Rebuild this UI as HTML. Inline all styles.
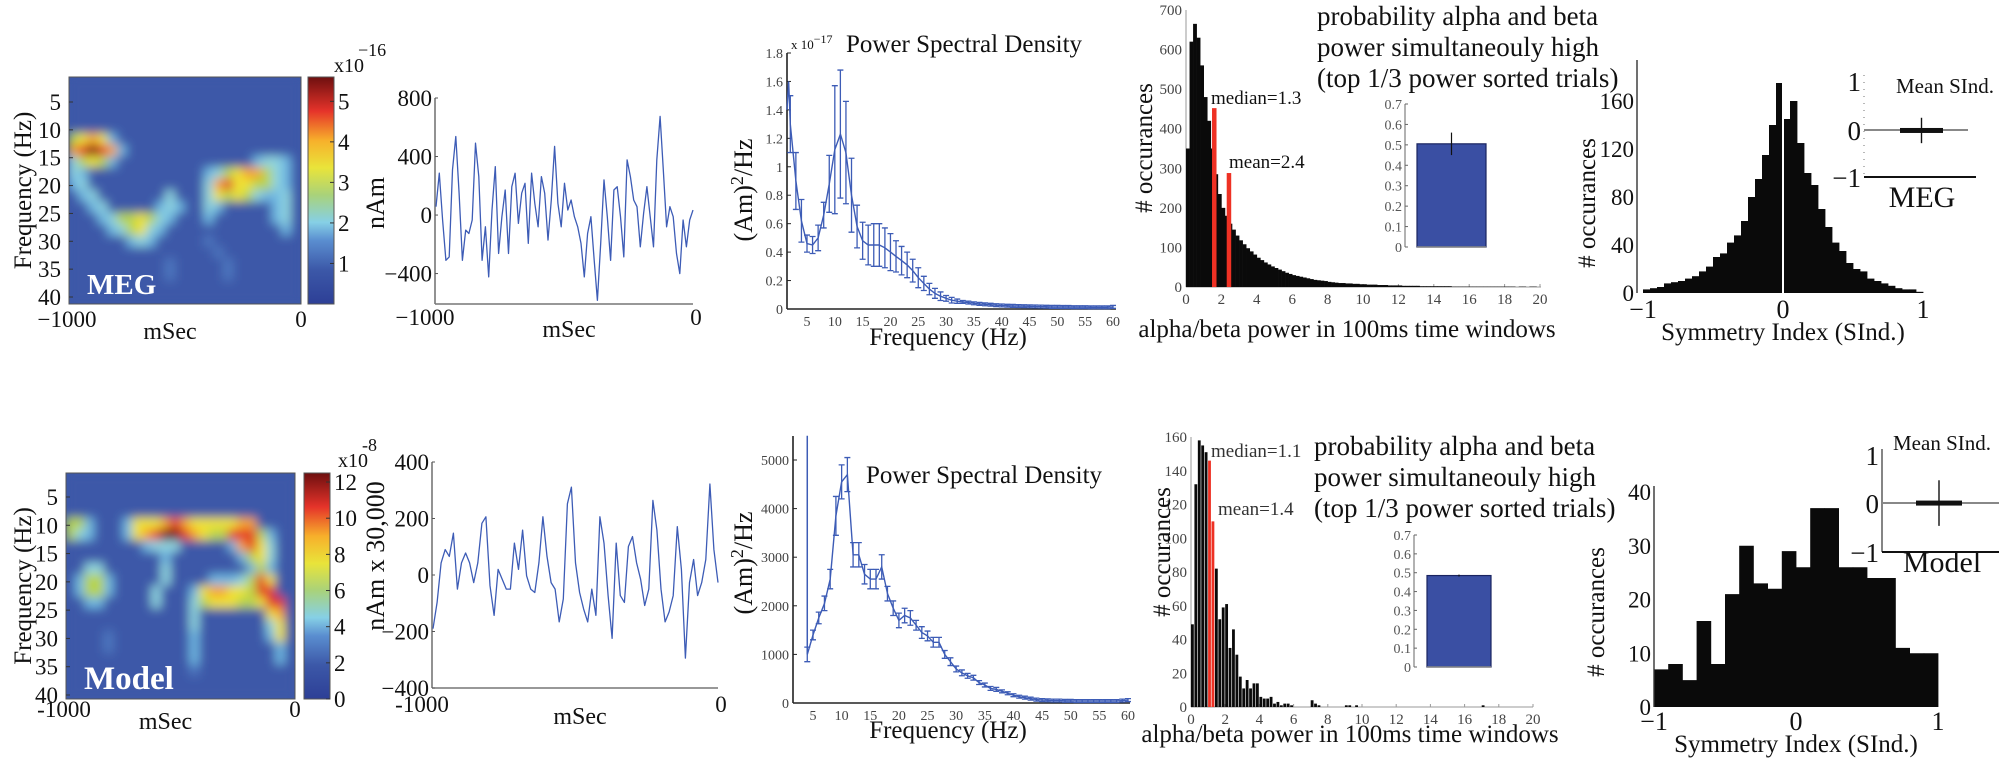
<!DOCTYPE html>
<html><head><meta charset="utf-8"><title>MEG vs Model</title>
<style>
html,body{margin:0;padding:0;background:#fff;}
svg{display:block;font-family:"Liberation Serif","DejaVu Serif",serif;}
</style></head>
<body>
<svg id="fig" xmlns="http://www.w3.org/2000/svg" width="1999" height="761" viewBox="0 0 1999 761">
<defs>
<linearGradient id="jet" x1="0" y1="1" x2="0" y2="0">
<stop offset="0" stop-color="#2d3f96"/><stop offset="0.15" stop-color="#3c58a8"/><stop offset="0.28" stop-color="#5a8ed0"/>
<stop offset="0.36" stop-color="#86d0e6"/><stop offset="0.48" stop-color="#a9d27a"/><stop offset="0.6" stop-color="#e9e43a"/>
<stop offset="0.72" stop-color="#f7b02b"/><stop offset="0.85" stop-color="#e5332a"/><stop offset="1" stop-color="#6e0f0f"/>
</linearGradient>
<filter id="blur" x="-10%" y="-10%" width="120%" height="120%"><feGaussianBlur stdDeviation="5"/></filter>
<clipPath id="clipTop"><rect x="69" y="77" width="232" height="227"/></clipPath>
<clipPath id="clipBot"><rect x="66" y="473" width="229" height="226"/></clipPath>
</defs>
</svg>
<script>
// ---------- data ----------
const levelColors = ['#2d3f96','#3c58a8','#4d78c0','#70b8e2','#8fd4df','#b8d44a','#efe236','#f6a428','#e3342a','#6e0f0f'];
const megGrid = [
"111111111111111111111111","111111111111111111111111","111111111111111111111111","111111111111111111111111",
"111111111111111111111111","567631111111111111111111","789873111111111111111111","456531111111111111134431",
"431111111111113456775431","341111111111114786655431","134111111141114656543341","113411111343114311111341",
"111345565431113111111341","111134564311111111111131","111111343111112111111111","111111111111111211111111",
"111111111121111121111111","111111111121111121111111","111111111111111111111111","111111111111111111111111"];
const modelGrid = [
"111111111111111111111111","111111111111111111111111","111111111111111111111111","111111111111111111111111",
"553111366678766666771111","543111367899876558885311","111111113444111113786411","111111111131111111356411",
"114411111141111111135311","135531111141111333458611","135531111411136776658811","113311111411145666556881",
"111111111111141111111671","111111111111141111111461","111121111111131111111361","111121111111131111111131",
"111111111111131111111131","111111111111121111111111","111111111111111111111111","111111111111111111111111"];
const megTicks = [1,2,3,4,5];
const modelTicks = [0,2,4,6,8,10,12];
const freqTicks = [5,10,15,20,25,30,35,40];

const megSeries = [57,286,-34,-309,-286,309,537,149,-309,-103,-126,-34,491,263,-309,-80,-423,34,331,-263,-11,171,-263,194,286,-57,149,217,-194,286,80,-80,263,149,-171,103,469,80,-80,217,34,103,-11,-80,-194,-423,-126,-11,-309,-583,-194,240,-11,-309,171,194,-11,-286,377,263,103,57,-217,11,194,-11,-217,377,674,309,-80,57,-11,-263,-400,-34,-217,-34,34];
const modelSeries = [-190,-97,43,90,66,148,-50,43,78,43,-27,43,183,206,-38,-143,20,-15,-50,-50,113,20,159,-3,-50,-62,43,206,66,-27,-50,-166,-85,252,311,43,-62,-120,-166,-50,-143,206,113,-73,-224,113,-73,-97,101,136,43,-15,-108,-50,264,159,-50,-166,-131,-73,171,20,-294,-27,55,-73,-27,55,322,90,-27];
const megTsTicks = [800,400,0,-400];
const modelTsTicks = [400,200,0,-200,-400];

const psdTopFreq = [2,3,4,5,6,7,8,9,10,11,12,13,14,15,16,17,18,19,20,21,22,23,24,25,26,27,28,29,30,31,32,33,34,35,36,37,38,39,40,41,42,43,44,45,46,47,48,49,50,51,52,53,54,55,56,57,58,59,60];
const psdTopVal = [1.30,0.90,0.62,0.46,0.45,0.50,0.66,0.88,1.12,1.23,1.10,0.80,0.58,0.48,0.45,0.45,0.45,0.43,0.40,0.37,0.34,0.31,0.27,0.22,0.18,0.14,0.11,0.09,0.075,0.062,0.055,0.05,0.045,0.04,0.036,0.033,0.03,0.027,0.025,0.023,0.022,0.021,0.02,0.019,0.018,0.017,0.016,0.015,0.015,0.014,0.014,0.013,0.013,0.013,0.012,0.012,0.012,0.012,0.015];
const psdTopErr = [0.2,0.2,0.15,0.06,0.06,0.09,0.09,0.2,0.45,0.45,0.36,0.26,0.15,0.13,0.14,0.15,0.15,0.14,0.13,0.11,0.1,0.09,0.08,0.07,0.05,0.04,0.035,0.03,0.02,0.02,0.015,0.01,0.01,0.01,0.01,0.01,0.01,0.01,0.01,0.01,0.01,0.01,0.01,0.01,0.01,0.01,0.01,0.01,0.01,0.01,0.01,0.01,0.01,0.01,0.01,0.01,0.01,0.01,0.01];
const psdTopStart = [1.4,1.6];
const psdTopYTicks = [0,0.2,0.4,0.6,0.8,1,1.2,1.4,1.6,1.8];
const psdXTicks = [5,10,15,20,25,30,35,40,45,50,55,60];

const psdBotFreq = [4,5,6,7,8,9,10,11,12,13,14,15,16,17,18,19,20,21,22,23,24,25,26,27,28,29,30,31,32,33,34,35,36,37,38,39,40,41,42,43,44,45,46,47,48,49,50,51,52,53,54,55,56,57,58,59,60];
const psdBotVal = [1000,1400,1750,2050,2550,3850,4550,4700,3050,3050,2650,2550,2550,2800,2250,1950,1700,1800,1750,1600,1450,1380,1250,1250,1000,850,700,620,560,520,420,370,300,280,240,200,160,130,110,90,70,60,55,50,50,45,45,40,40,40,40,40,40,40,40,50,60];
const psdBotErr = [150,100,120,150,200,400,350,350,250,250,200,200,200,250,150,150,150,150,150,100,120,100,100,100,80,80,60,60,50,50,40,40,40,40,30,30,30,30,30,30,30,30,30,30,30,30,30,30,30,30,30,30,30,30,30,30,30];
const psdBotSpike = 5500;
const psdBotYTicks = [0,1000,2000,3000,4000,5000];

const abTopCounts = [350,620,665,630,560,480,420,350,285,235,200,180,160,145,130,118,108,98,90,82,74,68,62,57,52,48,44,40,36,33,30,28,26,24,22,20,18,17,16,15,13,12,11,10,10,9,9,8,8,7,7,6,6,6,5,5,5,4,4,4,4,3,3,3,3,3,2,2,2,2,2,2,2,2,2,1,1,1,1,1,1,1,1,1,1,1,1,1,1,1,1,1,1,0,1,1,0,1,1,0];
const abTopMarkers = [1.3,2.4];
const abTopMarkerBin = [1.47,2.3];
const abTopMarkerCounts = [452,288];
const abBotCounts = [49,132,158,155,151,146,110,82,52,59,61,35,46,31,18,11,16,11,14,14,6,5,5,6,2,3,1,2,2,1,0,0,0,0,0,4,2,1,0,0,0,0,0,0,0,1,1,0,1,0,0,0,0,0,0,0,0,0,0,0,0,0,0,0,0,0,0,0,0,0,0,0,0,0,0,0,0,0,0,0,0,0,0,0,0,1,0,0,0,0,0,0,0,0,0,0,0,0,0,0];
const abBotRedBins = [5,6];
const abBotMarkers = [1.1,1.4];
const abTopYTicks = [0,100,200,300,400,500,600,700];
const abBotYTicks = [0,20,40,60,80,100,120,140,160];
const abXTicks = [0,2,4,6,8,10,12,14,16,18,20];
const probTop = [0.505], probTopErr = [0.055];
const probBot = [0.485], probBotErr = [0.005];
const probTicks = [0,0.1,0.2,0.3,0.4,0.5,0.6,0.7];

const symTopCounts = [3,4,5,8,9,10,12,14,18,22,30,33,42,48,60,80,95,115,140,175,145,160,125,100,90,70,55,42,35,25,20,18,12,10,8,6,4,3,3,1];
const symBotCounts = [7,8,5,16,8,21,30,23,22,29,26,37,37,26,26,24,24,11,10,10];
const symTopYTicks = [0,40,80,120,160];
const symBotYTicks = [0,10,20,30,40];
const symXTicks = [-1,0,1];
const meanSIndTop = [-0.01], meanSIndTopErr = [0.27];
const meanSIndBot = [0.03], meanSIndBotErr = [0.48];

// ---------- helpers ----------
const NS='http://www.w3.org/2000/svg';
const svg=document.getElementById('fig');
function mk(tag, attrs, name, parent){
  const el=document.createElementNS(NS,tag);
  for(const k in attrs) el.setAttribute(k,attrs[k]);
  
  
  (parent||svg).appendChild(el);
  return el;
}
function grp(name){ return mk('g',{},name); }
function txt(p,x,y,s,size,name,anchor,fill,rot,weight){
  const t=mk('text',{x:x,y:y,'font-size':size,fill:fill||'#111','text-anchor':anchor||'start'},name,p);
  if(rot) t.setAttribute('transform','rotate(-90 '+x+' '+y+')');
  if(weight) t.setAttribute('font-weight',weight);
  t.textContent=s; return t;
}
function ln(p,x1,y1,x2,y2,stroke,w,name){ return mk('line',{x1:x1,y1:y1,x2:x2,y2:y2,stroke:stroke,'stroke-width':w},name,p); }
function lin(d0,d1,r0,r1){ return v=>r0+(v-d0)/(d1-d0)*(r1-r0); }
function fmt(v){ return v<0 ? '\u2212'+Math.abs(v) : ''+v; }

// ---------- heatmaps ----------
function heatmap(name, grid, x0,x1,y0,y1, clip, fy, cbx, cby0, cby1, cbScale, cbTicks, label, expo, expoPos, xlY){
  const g=grp(name);
  const inner=mk('g',{'clip-path':'url(#'+clip+')'},name+'-cells',g);
  mk('rect',{x:x0,y:y0,width:x1-x0,height:y1-y0,fill:levelColors[1]},name+'-bg',inner);
  const blurG=mk('g',{filter:'url(#blur)',style:'filter:url(#blur)'},name+'-blur',inner);
  const rows=grid.length, cols=grid[0].length, cw=(x1-x0)/cols, rh=(y1-y0)/rows;
  for(let r=0;r<rows;r++) for(let c=0;c<cols;c++){
    const cell=mk('rect',{x:x0+c*cw-0.5,y:y0+r*rh-0.5,width:cw+1,height:rh+1,fill:levelColors[+grid[r][c]]},'cell',blurG);
    
  }
  mk('rect',{x:x0,y:y0,width:x1-x0,height:y1-y0,fill:'none',stroke:'#555','stroke-width':1},name+'-frame',g);
  freqTicks.forEach(f=>{ const y=fy(f); txt(g,x0-8,y+8,''+f,23,'y-tick-label','end'); ln(g,x0,y,x0+4,y,'#333',1,'y-tick'); });
  txt(g,31,(y0+y1)/2,'Frequency (Hz)',25,'y-axis-title','middle',null,true);
  txt(g,x0-2,xlY,name.indexOf('top')>=0?'\u22121000':'-1000',23,'x-tick-label','middle');
  txt(g,x1,xlY,'0',23,'x-tick-label','middle');
  txt(g,(x0+x1)/2-15,xlY+12,'mSec',24,'x-axis-title','middle');
  txt(g,x0+18,y1-10,label,label==='MEG'?29:33,'panel-label','start','#fff',false,'bold');
  mk('rect',{x:cbx,y:cby0,width:26,height:cby1-cby0,fill:'url(#jet)',stroke:'#555','stroke-width':1},name+'-colorbar',g);
  cbTicks.forEach(v=>{ const y=cbScale(v); txt(g,cbx+30,y+8,''+v,23,'colorbar-tick-label'); ln(g,cbx+22,y,cbx+26,y,'#333',1,'colorbar-tick'); });
  txt(g,expoPos[0],expoPos[1],'x10',20,'colorbar-exponent');
  txt(g,expoPos[0]+24,expoPos[1]-16,expo,18,'colorbar-exponent-power');
}
const fyTop=lin(5,40,102,297);
heatmap('heatmap-top',megGrid,69,301,77,304,'clipTop',fyTop,308,77,304,lin(0,5.6,304,77),megTicks,'MEG','\u221216',[334,72],327);
const fyBot=lin(5,40,497,695);
heatmap('heatmap-bottom',modelGrid,66,295,473,699,'clipBot',fyBot,304,473,699,lin(0,12.5,699,473),modelTicks,'Model','-8',[338,467],717);

// ---------- time series ----------
function timeseries(name, vals, ax, rx, yTop, yBot, vTop, vBot, ticks, ylab, ylabX, ylabY, xlY){
  const g=grp(name);
  const xs=lin(0,vals.length-1,ax+1,rx), ys=lin(vTop,vBot,yTop,yBot);
  ln(g,ax,ys(ticks[0]),ax,yBot,'#777',1.6,'y-axis');
  ln(g,ax,yBot,rx,yBot,'#777',1.6,'x-axis');
  ticks.forEach(v=>{ txt(g,ax-3,ys(v)+8,fmt(v),23,'y-tick-label','end'); ln(g,ax,ys(v),ax+3,ys(v),'#555',1,'y-tick'); });
  let d=''; vals.forEach((v,i)=>{ d+=(i?'L':'M')+xs(i).toFixed(1)+','+ys(v).toFixed(1); });
  const p=mk('path',{d:d,fill:'none',stroke:'#3d5cb6','stroke-width':1.3,'stroke-linejoin':'round'},'signal-line',g);
  
  txt(g,ax-10,xlY,name.indexOf('top')>=0?'\u22121000':'-1000',23,'x-tick-label','middle');
  txt(g,rx+3,xlY,'0',23,'x-tick-label','middle');
  txt(g,(ax+rx)/2+5,xlY+12,'mSec',24,'x-axis-title','middle');
  txt(g,ylabX,ylabY,ylab,26,'y-axis-title','middle',null,true);
}
timeseries('timeseries-top',megSeries,435,693,98,304,800,-608,megTsTicks,'nAm',384,203,325);
timeseries('timeseries-bottom',modelSeries,432,718,462,688,400,-400,modelTsTicks,'nAm x 30,000',384,556,712);

// ---------- PSD ----------
function psd(name, freqs, vals, errs, xs, ys, axX, yTop, yBot, xEnd, yTicks, yTickFmt, xlabY, titleX, titleY, ylabY, start, spike){
  const g=grp(name);
  ln(g,axX,yTop,axX,yBot,'#222',1.6,'y-axis');
  ln(g,axX,yBot,xEnd,yBot,'#222',1.6,'x-axis');
  yTicks.forEach(v=>{ txt(g,axX-4,ys(v)+5,yTickFmt(v),14,'y-tick-label','end','#444'); ln(g,axX,ys(v),axX+4,ys(v),'#222',1,'y-tick'); });
  psdXTicks.forEach(f=>{ txt(g,xs(f),yBot+17,''+f,14,'x-tick-label','middle','#444'); });
  let d='';
  if(start) start.forEach((v,i)=>{ d+=(i?'L':'M')+xs(1.4+i*0.3)+','+ys(v); });
  freqs.forEach((f,i)=>{ d+=(d?'L':'M')+xs(f).toFixed(1)+','+ys(vals[i]).toFixed(1); });
  if(spike){ const sp=mk('line',{x1:xs(freqs[0]),y1:ys(vals[0]),x2:xs(freqs[0]),y2:ys(spike),stroke:'#3d5cb6','stroke-width':1.5},'psd-spike',g);  }
  const p=mk('path',{d:d,fill:'none',stroke:'#3d5cb6','stroke-width':1.4},'psd-line',g);
  
  freqs.forEach((f,i)=>{
    const x=xs(f), y1=ys(vals[i]+errs[i]), y2=ys(Math.max(0,vals[i]-errs[i]));
    const e=mk('path',{d:'M'+x+','+y1+'L'+x+','+y2+'M'+(x-3)+','+y1+'L'+(x+3)+','+y1+'M'+(x-3)+','+y2+'L'+(x+3)+','+y2,stroke:'#3d5cb6','stroke-width':1.3,fill:'none'},'error-bar',g);
    
  });
  txt(g,titleX,titleY,'Power Spectral Density',25,'chart-title');
  const yl=txt(g,752,ylabY,'',26,'y-axis-title','middle',null,true);
  yl.innerHTML='(Am)<tspan dy="-9" font-size="18">2</tspan><tspan dy="9">/Hz</tspan>';
  txt(g,948,xlabY,'Frequency (Hz)',25,'x-axis-title','middle');
}
const psdTopX=lin(5,60,807,1113), psdTopY=lin(0,1.8,309,53);
psd('psd-top',psdTopFreq,psdTopVal,psdTopErr,psdTopX,psdTopY,787,53,309,1116,psdTopYTicks,v=>''+v,345,846,52,190,psdTopStart,null);
{ const g=grp('psd-top-exponent'); const t=txt(g,791,49,'',13,'y-axis-exponent'); t.innerHTML='x 10<tspan dy="-6" font-size="12">\u221217</tspan>'; }
const psdBotX=lin(5,60,813,1128), psdBotY=lin(0,5000,703,460);
psd('psd-bottom',psdBotFreq,psdBotVal,psdBotErr,psdBotX,psdBotY,793,436,703,1130,psdBotYTicks,v=>''+v,738,866,483,563,null,psdBotSpike);

// ---------- alpha/beta histograms ----------
function abHist(name, counts, xs, ys, axX, yTop, yBot, xEnd, yTicks, redBins, markerBins, markerCounts, gaps){
  const g=grp(name);
  ln(g,axX,yTop,axX,yBot,'#999',1,'y-axis');
  ln(g,axX,yBot,xEnd,yBot,'#999',1,'x-axis');
  yTicks.forEach(v=>{ txt(g,axX-4,ys(v)+5,''+v,15,'y-tick-label','end','#444'); });
  abXTicks.forEach(v=>{ txt(g,xs(v),yBot+17,''+v,15,'x-tick-label','middle','#444'); ln(g,xs(v),yBot,xs(v),yBot-3,'#999',1,'x-tick'); });
  counts.forEach((c,i)=>{
    if(c<=0) return;
    const red=redBins && redBins.indexOf(i)>=0;
    const b=mk('rect',{x:xs(i*0.2),y:ys(c),width:xs(0.2)-xs(0)+(gaps?-0.6:0.3),height:yBot-ys(c),fill:red?'#ee3124':'#0a0a0a'},'bar',g);
    
  });
  if(markerBins) markerBins.forEach((u,i)=>{
    const r=mk('rect',{x:xs(u),y:ys(markerCounts[i]),width:4.5,height:yBot-ys(markerCounts[i]),fill:'#ee3124'},'marker-bar',g);
    
  });
  return g;
}
const abTX=lin(0,20,1186,1540), abTY=lin(0,700,287,10);
const gT=abHist('alpha-beta-hist-top',abTopCounts,abTX,abTY,1186,10,287,1541,abTopYTicks,null,abTopMarkerBin,abTopMarkerCounts,false);
txt(gT,1211,104,'median='+abTopMarkers[0],19,'median-label');
txt(gT,1229,168,'mean='+abTopMarkers[1],19,'mean-label');
txt(gT,1152,148,'# occurances',25,'y-axis-title','middle',null,true);
txt(gT,1347,337,'alpha/beta power in 100ms time windows',25,'x-axis-title','middle');
const abBX=lin(0,20,1191,1533), abBY=lin(0,160,707,437);
const gB=abHist('alpha-beta-hist-bottom',abBotCounts,abBX,abBY,1191,437,707,1533,abBotYTicks,abBotRedBins,null,null,true);
txt(gB,1211,457,'median='+abBotMarkers[0],19,'median-label','start','#333');
txt(gB,1218,515,'mean='+abBotMarkers[1],19,'mean-label','start','#333');
txt(gB,1170,552,'# occurances',25,'y-axis-title','middle',null,true);
txt(gB,1350,742,'alpha/beta power in 100ms time windows',25,'x-axis-title','middle');

function titleBlock(p,x,y){
  ['probability alpha and beta','power simultaneouly high','(top 1/3 power sorted trials)'].forEach((s,i)=>txt(p,x,y+i*31,s,27,'annotation-line'));
}
titleBlock(gT,1317,25);
titleBlock(gB,1314,455);

function probInset(name, val, err, axX, y0, y7, bx0, bx1){
  const g=grp(name);
  const ys=lin(0,0.7,y0,y7);
  ln(g,axX,y7,axX,y0,'#666',1,'inset-y-axis');
  probTicks.forEach(v=>{ txt(g,axX-3,ys(v)+5,''+v,14,'inset-tick-label','end','#555'); ln(g,axX,ys(v),axX+3,ys(v),'#666',1,'inset-tick'); });
  const b=mk('rect',{x:bx0,y:ys(val[0]),width:bx1-bx0,height:y0-ys(val[0]),fill:'#3a4fa3',stroke:'#1a2460','stroke-width':1.2},'probability-bar',g);
  
  ln(g,(bx0+bx1)/2,ys(val[0]-err[0]),(bx0+bx1)/2,ys(val[0]+err[0]),'#111',1.2,'error-bar');
  ln(g,bx0,y0,bx1,y0,'#888',1.5,'inset-baseline');
}
probInset('probability-inset-top',probTop,probTopErr,1405,247,104,1417,1486);
probInset('probability-inset-bottom',probBot,probBotErr,1414,667,535,1427,1491);

// ---------- symmetry index histograms ----------
function symHist(name, counts, xs, ys, axX, yTop, yBot, yTicks, xlY, ylX, ylY, whiteLine){
  const g=grp(name);
  const n=counts.length, w=2/n;
  counts.forEach((c,i)=>{
    const b=mk('rect',{x:xs(-1+i*w),y:ys(c),width:xs(w)-xs(0)+0.4,height:yBot-ys(c),fill:'#0a0a0a'},'bar',g);
    
  });
  ln(g,axX,yTop,axX,yBot,'#333',1.4,'y-axis');
  yTicks.forEach(v=>{ txt(g,axX-3,ys(v)+8,''+v,23,'y-tick-label','end'); });
  symXTicks.forEach(v=>{ txt(g,xs(v),xlY,fmt(v),26,'x-tick-label','middle'); });
  txt(g,xs(0),xlY+22,'Symmetry Index (SInd.)',25,'x-axis-title','middle');
  txt(g,ylX,ylY,'# occurances',25,'y-axis-title','middle',null,true);
  if(whiteLine) ln(g,xs(0),yTop,xs(0),yBot,'#ffffff',2,'zero-line');
}
const symTX=lin(-1,1,1643,1923), symTY=lin(0,160,293,101);
symHist('symmetry-hist-top',symTopCounts,symTX,symTY,1637,60,293,symTopYTicks,318,1595,203,true);
const symBX=lin(-1,1,1654,1938), symBY=lin(0,40,707,492);
symHist('symmetry-hist-bottom',symBotCounts,symBX,symBY,1654,486,707,symBotYTicks,730,1604,612,false);

function meanInset(name, mean, err, axX, y1, y0, ym1, lineEnd, barX0, barX1, label, labelX, labelY, titleX, titleY, dotted){
  const g=grp(name);
  const ys=lin(-1,1,ym1,y1);
  const ax=ln(g,axX,y1-8,axX,ym1,dotted?'#888':'#333',1.2,'inset-y-axis');
  if(dotted) ax.setAttribute('stroke-dasharray','1 6');
  txt(g,axX-3,y1+8,'1',27,'inset-tick-label','end');
  txt(g,axX-3,y0+10,'0',27,'inset-tick-label','end');
  txt(g,axX-3,ym1+10,'\u22121',27,'inset-tick-label','end');
  ln(g,axX,y0,lineEnd,y0,'#888',2,'zero-line');
  ln(g,axX,ym1,lineEnd+8,ym1,'#111',2,'inset-x-axis');
  const b=mk('rect',{x:barX0,y:ys(mean[0])-2.5,width:barX1-barX0,height:5,fill:'#111'},'mean-bar',g);
  
  ln(g,(barX0+barX1)/2,ys(mean[0]+err[0]),(barX0+barX1)/2,ys(mean[0]-err[0]),'#111',1.4,'error-bar');
  txt(g,titleX,titleY,'Mean SInd.',21,'inset-title');
  txt(g,labelX,labelY,label,30,'inset-label','middle');
}
meanInset('mean-sind-inset-top',meanSIndTop,meanSIndTopErr,1864,83,130,177,1968,1900,1943,'MEG',1922,207,1896,93,true);
meanInset('mean-sind-inset-bottom',meanSIndBot,meanSIndBotErr,1882,457,503,552,1999,1916,1962,'Model',1942,572,1893,450,false);
</script>
</body></html>
